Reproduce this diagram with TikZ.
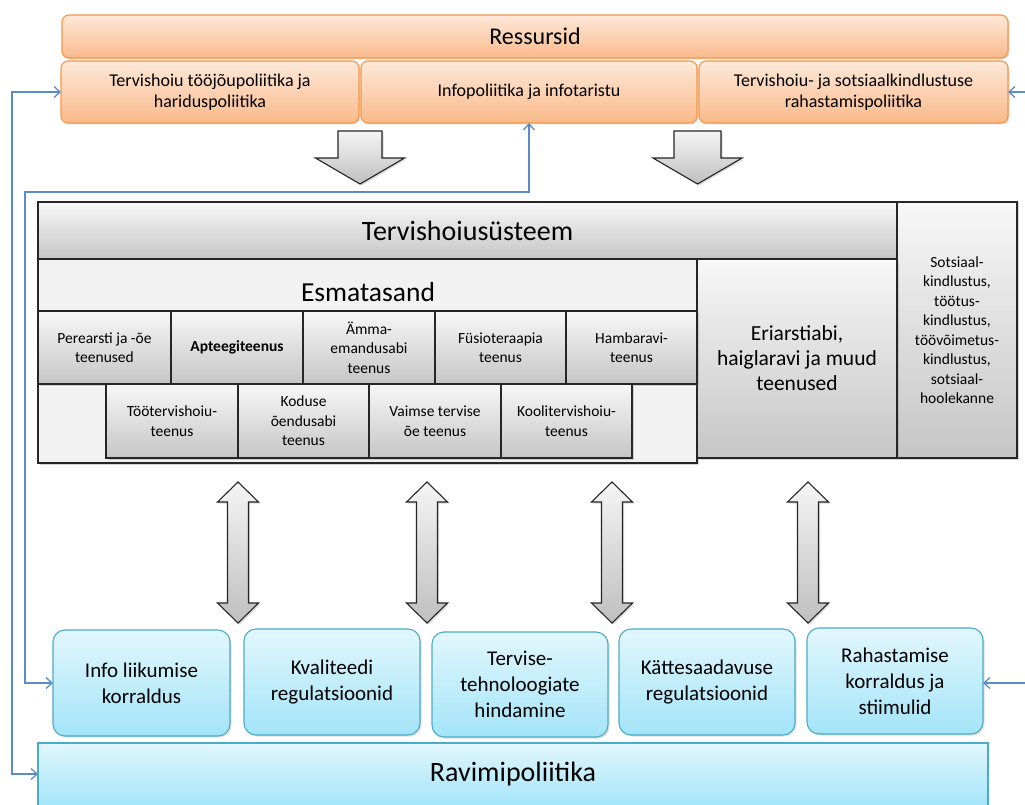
\documentclass[tikz,border=0pt]{standalone}
\usepackage{fontspec}
\setmainfont{Carlito}
\usetikzlibrary{shadows,arrows.meta}
\definecolor{orTop}{HTML}{FDE9D9}
\definecolor{orBot}{HTML}{FAB98A}
\definecolor{orLine}{HTML}{F79646}
\definecolor{cyTop}{HTML}{E2F7FD}
\definecolor{cyBot}{HTML}{A3E4F8}
\definecolor{cyLine}{HTML}{4BACC6}
\definecolor{conBlue}{HTML}{5B8BC9}
\definecolor{frameGray}{HTML}{F2F2F2}
\tikzset{
  base/.style={inner sep=2pt, outer sep=0pt, align=center, line width=1.1pt},
  orbox/.style={base, rounded corners=7pt, draw=orLine, top color=orTop, bottom color=orBot,
     drop shadow={opacity=0.25, shadow xshift=1.5pt, shadow yshift=-1.5pt}},
  grbox/.style={base, draw=black!85, top color=gray!6, bottom color=gray!45,
     drop shadow={opacity=0.3, shadow xshift=1.5pt, shadow yshift=-1.5pt}},
  frbox/.style={base, draw=black!85, fill=frameGray,
     drop shadow={opacity=0.3, shadow xshift=1.5pt, shadow yshift=-1.5pt}},
  cybox/.style={base, rounded corners=12pt, draw=cyLine, top color=cyTop, bottom color=cyBot,
     drop shadow={opacity=0.25, shadow xshift=1.5pt, shadow yshift=-1.5pt}},
  rvbox/.style={base, draw=cyLine, top color=cyTop, bottom color=cyBot},
  blockarrow/.style={draw=black!85, line width=1.1pt, top color=gray!8, bottom color=gray!50,
     drop shadow={opacity=0.3, shadow xshift=1.5pt, shadow yshift=-1.5pt}},
  conn/.style={draw=conBlue, line width=1.3pt, arrows={-Straight Barb[length=6pt,width=11pt]}},
  connb/.style={draw=conBlue, line width=1.3pt, arrows={Straight Barb[length=6pt,width=11pt]-Straight Barb[length=6pt,width=11pt]}},
}
% \bx{style}{name}{x1}{y1}{x2}{y2}{font}{text}
\newcommand\bx[8]{\node[#1, minimum width={#5-#3}, minimum height={#6-#4}, anchor=center, font=#7]
   (#2) at ({(#3+#5)/2},{(#4+#6)/2}) {#8};}
% down block arrow: center x, top y, tip y, head base y, shaft half, head half
\newcommand\blkdown[6]{\path[blockarrow] (#1-#5,#2) -- (#1+#5,#2) -- (#1+#5,#4) -- (#1+#6,#4) -- (#1,#3) -- (#1-#6,#4) -- (#1-#5,#4) -- cycle;}
\newcommand\blkdbl[1]{\path[blockarrow] (#1,482) -- (#1+20.5,502) -- (#1+10.5,502) -- (#1+10.5,603) -- (#1+20.5,603) -- (#1,623) -- (#1-20.5,603) -- (#1-10.5,603) -- (#1-10.5,502) -- (#1-20.5,502) -- cycle;}
\newcommand\fsmall{\fontsize{15.5}{19.5}\selectfont}
\newcommand\ftop{\fontsize{18}{21}\selectfont}
\newcommand\fbot{\fontsize{21}{26}\selectfont}
\begin{document}
\begin{tikzpicture}[x=1pt,y=-1pt]
\useasboundingbox (0,0) rectangle (1025,805);
\clip (0,0) rectangle (1025,805);
\fill[white] (0,0) rectangle (1025,805);
% Resources
\bx{orbox}{res}{62}{15}{1008}{58}{\fontsize{24}{28}\selectfont}{Ressursid}
\bx{orbox}{tt}{61}{61}{359}{123}{\ftop}{Tervishoiu tööjõupoliitika ja\\hariduspoliitika}
\bx{orbox}{info}{361}{61}{697}{123}{\ftop}{Infopoliitika ja infotaristu}
\bx{orbox}{raha}{699}{61}{1008}{123}{\ftop}{Tervishoiu- ja sotsiaalkindlustuse\\rahastamispoliitika}
% down arrows
\blkdown{360}{131}{184}{158}{22}{44.5}
\blkdown{697.5}{131}{184}{158}{23.5}{44.5}
% health system
\bx{grbox}{ths}{38}{202}{897}{259}{\fontsize{28}{32}\selectfont}{Tervishoiusüsteem}
\bx{grbox}{sots}{897}{202}{1017}{458}{\fontsize{15.5}{19.5}\selectfont}{Sotsiaal-\\kindlustus,\\töötus-\\kindlustus,\\töövõimetus-\\kindlustus,\\sotsiaal-\\hoolekanne}
\bx{frbox}{esm}{38}{259}{697}{463}{}{}
\node[font=\fontsize{27.5}{30}\selectfont] (esmt) at (368,292) {Esmatasand};
\bx{grbox}{eri}{697}{259}{897}{458}{\fontsize{21.5}{25}\selectfont}{Eriarstiabi,\\haiglaravi ja muud\\teenused}
% primary care row 1
\bx{grbox}{pere}{38}{311}{171}{384}{\fsmall}{Perearsti ja -õe\\teenused}
\bx{grbox}{apt}{171}{311}{303}{384}{\fsmall\bfseries}{Apteegiteenus}
\bx{grbox}{emma}{303}{311}{435}{384}{\fsmall}{Ämma-\\emandusabi\\teenus}
\bx{grbox}{fys}{435}{311}{566}{384}{\fsmall}{Füsioteraapia\\teenus}
\bx{grbox}{hamb}{566}{311}{697}{384}{\fsmall}{Hambaravi-\\teenus}
% row 2
\bx{grbox}{too}{106}{384}{238}{458}{\fsmall}{Töötervishoiu-\\teenus}
\bx{grbox}{kod}{238}{384}{369}{458}{\fsmall}{Koduse\\õendusabi\\teenus}
\bx{grbox}{vai}{369}{384}{501}{458}{\fsmall}{Vaimse tervise\\õe teenus}
\bx{grbox}{kool}{501}{384}{632}{458}{\fsmall}{Koolitervishoiu-\\teenus}
% double arrows
\blkdbl{238}
\blkdbl{427}
\blkdbl{612}
\blkdbl{808}
% bottom boxes
\bx{cybox}{liik}{53}{630}{230}{736}{\fbot}{Info liikumise\\korraldus}
\bx{cybox}{kval}{244}{629}{420}{735}{\fbot}{Kvaliteedi\\regulatsioonid}
\bx{cybox}{tehn}{432}{632}{608}{737}{\fbot}{Tervise-\\tehnoloogiate\\hindamine}
\bx{cybox}{katt}{619}{629}{795}{735}{\fbot}{Kättesaadavuse\\regulatsioonid}
\bx{cybox}{stim}{807}{628}{983}{734}{\fbot}{Rahastamise\\korraldus ja\\stiimulid}
\bx{rvbox}{ravi}{38}{743}{988}{806}{\fontsize{28}{32}\selectfont}{Ravimipoliitika}
% connectors
\draw[connb] (tt.west) -- (12,92) |- (ravi.west |- 0,774);
\draw[connb] (info.south) |- (25,192) |- (liik.west);
\coordinate (rin1) at (1025,92);
\coordinate (rin2) at (1025,683);
\draw[conn] (rin1) -- (raha.east |- rin1);
\draw[conn] (rin2) -- (stim.east |- rin2);
\end{tikzpicture}
\end{document}
